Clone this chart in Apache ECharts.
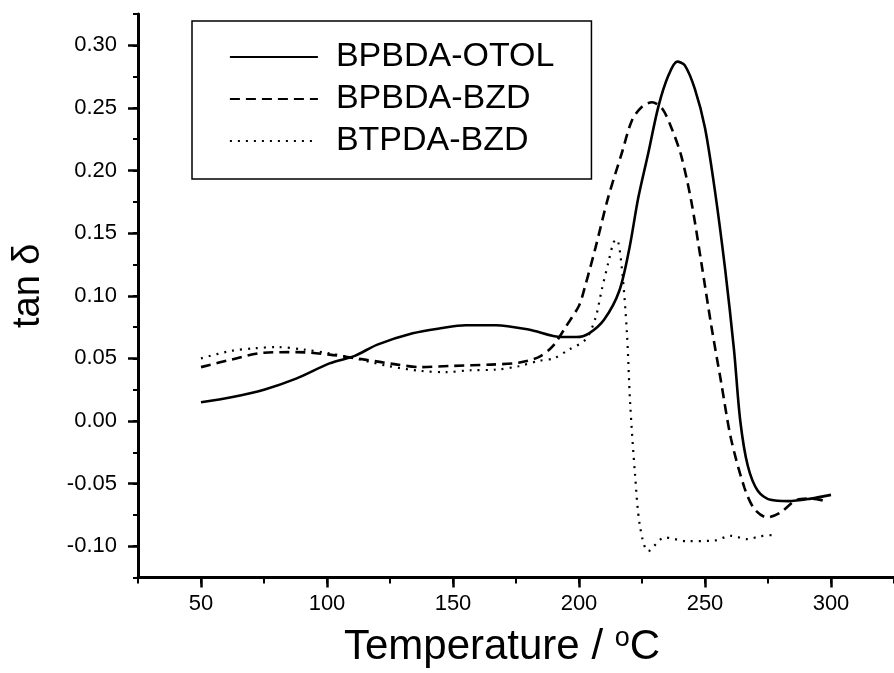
<!DOCTYPE html>
<html>
<head>
<meta charset="utf-8">
<script src="https://cdn.jsdelivr.net/npm/echarts@6/dist/echarts.min.js"></script>
<style>
  html, body { margin: 0; padding: 0; background: #fff; }
  #chart { width: 894px; height: 673px; }
</style>
</head>
<body>
<div id="chart"></div>
<script>
// ---- data ----
const seriesNames = ['BPBDA-OTOL', 'BPBDA-BZD', 'BTPDA-BZD'];

const otolTemp = [50, 62, 75, 88, 101, 111, 120, 134, 145, 155, 167, 180, 193, 199, 204, 210, 216, 220, 223.5, 227.5, 231.5, 235.5, 239, 242, 246, 250, 254, 258, 261.5, 264, 267, 271, 276, 283, 292, 300];
const otolTan  = [0.015, 0.019, 0.025, 0.034, 0.046, 0.052, 0.061, 0.070, 0.074, 0.0765, 0.0765, 0.073, 0.067, 0.067, 0.070, 0.081, 0.104, 0.138, 0.178, 0.214, 0.251, 0.276, 0.287, 0.284, 0.265, 0.234, 0.183, 0.121, 0.057, 0.000, -0.036, -0.056, -0.063, -0.064, -0.062, -0.059];

const bpbdaBzdTemp = [50, 62, 75, 88, 101, 115, 128, 137, 150, 165, 176, 184, 189.5, 195, 200, 202, 206.5, 211.5, 217, 221, 225, 229, 233, 236.7, 240.6, 244.6, 248.5, 252.5, 256.4, 260.3, 265.6, 269.5, 274.7, 280, 286.5, 292, 298];
const bpbdaBzdTan  = [0.043, 0.049, 0.0545, 0.055, 0.053, 0.049, 0.045, 0.043, 0.044, 0.045, 0.0465, 0.051, 0.0595, 0.076, 0.092, 0.1045, 0.138, 0.178, 0.214, 0.240, 0.251, 0.2545, 0.2495, 0.234, 0.2115, 0.175, 0.127, 0.076, 0.031, -0.014, -0.053, -0.070, -0.077, -0.073, -0.063, -0.062, -0.064];

const btpdaBzdTemp = [50, 62, 71, 80, 91, 101, 111, 124, 137, 147, 157, 167, 176, 184, 190, 196, 202.6, 206.5, 209, 211.7, 213.7, 215, 217, 219, 220.3, 222.2, 224.2, 227.5, 234, 243, 253.7, 260.3, 266.9, 272, 277.5];
const btpdaBzdTan  = [0.050, 0.056, 0.058, 0.059, 0.057, 0.054, 0.050, 0.044, 0.040, 0.039, 0.0405, 0.041, 0.0437, 0.048, 0.050, 0.057, 0.065, 0.082, 0.1045, 0.127, 0.1426, 0.145, 0.122, 0.071, 0.014, -0.042, -0.084, -0.104, -0.093, -0.096, -0.0955, -0.0917, -0.0944, -0.092, -0.091];

const tempTickLabels = [50, 100, 150, 200, 250, 300];
const tanTickLabels = [-0.10, -0.05, 0.00, 0.05, 0.10, 0.15, 0.20, 0.25, 0.30];

// ---- chart ----
const FONT = '"Liberation Sans", Arial, sans-serif';
const zip = (xs, ys) => xs.map((x, i) => [x, ys[i]]);

const chart = echarts.init(document.getElementById('chart'), null, { renderer: 'canvas' });

const xBase = { type: 'value', min: 25, max: 325, interval: 25, gridIndex: 0, position: 'bottom', splitLine: { show: false } };
const yBase = { type: 'value', min: -0.125, max: 0.325, interval: 0.025, gridIndex: 0, position: 'left', splitLine: { show: false } };

chart.setOption({
  animation: false,
  backgroundColor: '#fff',
  grid: { left: 138, top: 14, width: 762, height: 564, containLabel: false },
  xAxis: [
    Object.assign({}, xBase, {
      axisLine: { show: true, onZero: false, lineStyle: { color: '#000', width: 3 } },
      axisTick: { show: true, inside: false, length: 6, lineStyle: { color: '#000', width: 2 } },
      axisLabel: { show: false }
    }),
    Object.assign({}, xBase, {
      axisLine: { show: false, onZero: false },
      axisTick: { show: true, inside: false, length: 10, customValues: tempTickLabels, lineStyle: { color: '#000', width: 2.5 } },
      axisLabel: { show: true, customValues: tempTickLabels, margin: 15, color: '#000', fontSize: 22, fontFamily: FONT },
      name: 'Temperature / {sup|o}C',
      nameLocation: 'middle',
      nameGap: 48,
      nameTextStyle: {
        color: '#000', fontSize: 42, fontFamily: FONT, padding: [0, 28, 0, 0],
        rich: { sup: { fontSize: 27, fontFamily: FONT, color: '#000', verticalAlign: 'top', padding: [0, 0, 16, 0] } }
      }
    })
  ],
  yAxis: [
    Object.assign({}, yBase, {
      axisLine: { show: true, onZero: false, lineStyle: { color: '#000', width: 3 } },
      axisTick: { show: true, inside: false, length: 5, lineStyle: { color: '#000', width: 2 } },
      axisLabel: { show: false }
    }),
    Object.assign({}, yBase, {
      axisLine: { show: false, onZero: false },
      axisTick: { show: true, inside: false, length: 10, customValues: tanTickLabels, lineStyle: { color: '#000', width: 2.5 } },
      axisLabel: { show: true, customValues: tanTickLabels, margin: 21, color: '#000', fontSize: 22, fontFamily: FONT,
        formatter: v => (Math.abs(v) < 1e-9 ? 0 : v).toFixed(2) },
      name: 'tan δ',
      nameLocation: 'middle',
      nameRotate: 90,
      nameGap: 90,
      nameTextStyle: { color: '#000', fontSize: 38, fontFamily: FONT, padding: [0, 0, 0, 20] }
    })
  ],
  legend: {
    orient: 'vertical',
    left: 192,
    top: 21,
    padding: [19, 37, 21, 37],
    itemGap: 8,
    itemWidth: 88,
    itemHeight: 14,
    borderColor: '#000',
    borderWidth: 1.5,
    data: seriesNames,
    itemStyle: { opacity: 0 },
    lineStyle: { width: 1.8 },
    textStyle: { color: '#000', fontSize: 34, fontFamily: FONT, lineHeight: 34, padding: [0, 0, 0, 13] }
  },
  series: [
    {
      name: seriesNames[0], type: 'line', xAxisIndex: 0, yAxisIndex: 0,
      data: zip(otolTemp, otolTan), symbol: 'none', smooth: 0.3,
      lineStyle: { color: '#000', width: 2.6, type: 'solid' }, itemStyle: { color: '#000' }
    },
    {
      name: seriesNames[1], type: 'line', xAxisIndex: 0, yAxisIndex: 0,
      data: zip(bpbdaBzdTemp, bpbdaBzdTan), symbol: 'none', smooth: 0.3,
      lineStyle: { color: '#000', width: 2.6, type: [10, 6] }, itemStyle: { color: '#000' }
    },
    {
      name: seriesNames[2], type: 'line', xAxisIndex: 0, yAxisIndex: 0,
      data: zip(btpdaBzdTemp, btpdaBzdTan), symbol: 'none', smooth: 0.3,
      lineStyle: { color: '#000', width: 2.2, type: [2, 6] }, itemStyle: { color: '#000' }
    }
  ]
});
</script>
</body>
</html>
